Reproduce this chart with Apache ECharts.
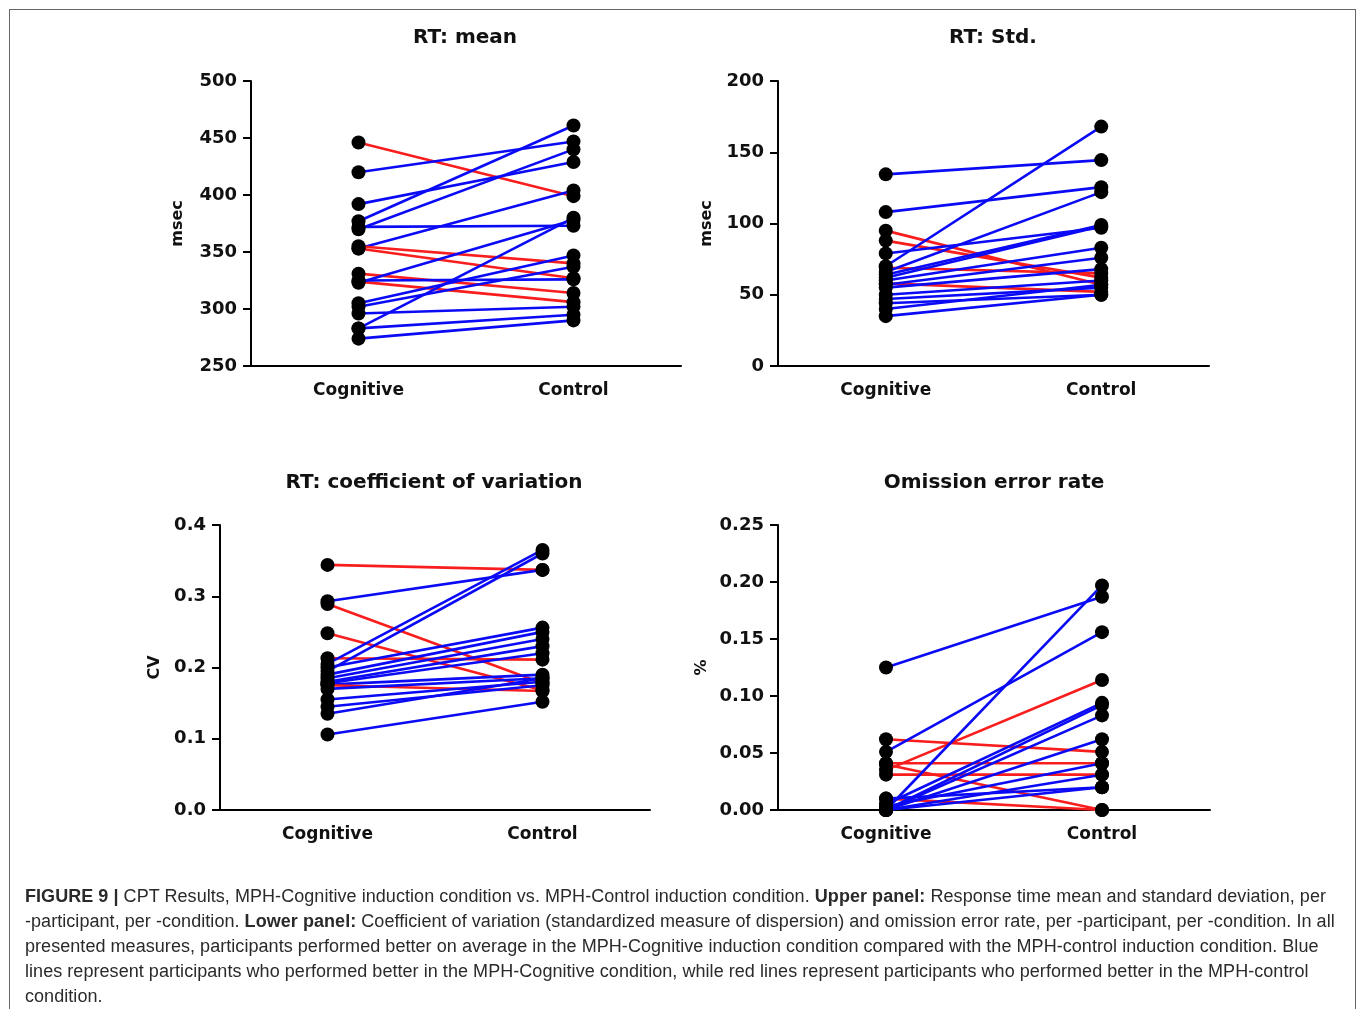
<!DOCTYPE html>
<html>
<head>
<meta charset="utf-8">
<script src="https://cdn.jsdelivr.net/npm/echarts@6/dist/echarts.min.js"></script>
<style>
html,body{margin:0;padding:0;background:#fff;}
#wrap{position:relative;width:1358px;height:1009px;overflow:hidden;}
#frame{position:absolute;left:9px;top:9px;width:1347px;height:1010px;border:1.5px solid #666;box-sizing:border-box;}
#chart{position:absolute;left:0;top:0;width:1358px;height:1009px;}
#cap{position:absolute;left:25px;top:884px;width:1325px;font-family:"Liberation Sans",Arial,sans-serif;font-size:18px;letter-spacing:0.05px;line-height:25px;color:#2a2a2a;white-space:nowrap;}
</style>
</head>
<body>
<div id="wrap">
<div id="frame"></div>
<div id="chart"></div>
<div id="cap"><b>FIGURE 9 |</b> CPT Results, MPH-Cognitive induction condition vs. MPH-Control induction condition. <b>Upper panel:</b> Response time mean and standard deviation, per<br>-participant, per -condition. <b>Lower panel:</b> Coefficient of variation (standardized measure of dispersion) and omission error rate, per -participant, per -condition. In all<br>presented measures, participants performed better on average in the MPH-Cognitive induction condition compared with the MPH-control induction condition. Blue<br>lines represent participants who performed better in the MPH-Cognitive condition, while red lines represent participants who performed better in the MPH-control<br>condition.</div>
</div>
<script>
// ---- data ----
var categories = ['Cognitive', 'Control'];
var titles = ['RT: mean', 'RT: Std.', 'RT: coefficient of variation', 'Omission error rate'];
var yNames = ['msec', 'msec', 'CV', '%'];

// RT mean (msec)
var meanCog  = [446, 420, 392, 377, 370, 372, 353, 355, 353, 331, 324, 325, 323, 305, 302, 296, 283, 283, 274];
var meanCtrl = [399, 447, 429, 461, 440, 373, 404, 340, 327, 314, 306, 326, 378, 347, 337, 302, 380, 295, 290];
var meanCol  = ['R','B','B','B','B','B','B','R','R','R','R','B','B','B','B','B','B','B','B'];

// RT std (msec)
var stdCog  = [134.5, 108, 95, 88, 79, 70, 69, 66, 64, 62, 60, 58, 57, 55, 50, 47, 44, 40, 35];
var stdCtrl = [144.5, 125.5, 57, 62, 97, 168, 65, 122, 99, 98, 83, 52, 76, 68, 60, 55, 50, 57, 50];
var stdCol  = ['B','B','R','R','B','B','R','B','B','B','B','R','B','B','B','B','B','B','B'];

// RT coefficient of variation
var cvCog  = [0.344, 0.293, 0.289, 0.248, 0.213, 0.205, 0.195, 0.200, 0.190, 0.185, 0.180, 0.178, 0.176, 0.175, 0.170, 0.155, 0.145, 0.135, 0.106];
var cvCtrl = [0.337, 0.337, 0.178, 0.168, 0.211, 0.365, 0.360, 0.256, 0.250, 0.240, 0.230, 0.220, 0.190, 0.167, 0.185, 0.180, 0.175, 0.185, 0.152];
var cvCol  = ['R','B','R','R','R','B','B','B','B','B','B','B','B','R','B','B','B','B','B'];

// Omission error rate
var omCog  = [0.125, 0.062, 0.051, 0.041, 0.040, 0.035, 0.031, 0.010, 0.010, 0.005, 0.000, 0.000, 0.000, 0.000, 0.000, 0.000, 0.003];
var omCtrl = [0.187, 0.051, 0.156, 0.041, 0.000, 0.114, 0.031, 0.000, 0.020, 0.094, 0.197, 0.092, 0.083, 0.062, 0.031, 0.020, 0.041];
var omCol  = ['B','R','B','R','R','R','R','R','B','B','B','B','B','B','B','B','B'];

var yMin = [250, 0, 0, 0];
var yMax = [500, 200, 0.4, 0.25];
var yInt = [50, 50, 0.1, 0.05];
var yDec = [0, 0, 1, 2];

// ---- layout ----
var grids = [
  {left: 251, top: 81, width: 430, height: 285},
  {left: 778, top: 81, width: 431, height: 285},
  {left: 220, top: 525, width: 430, height: 285},
  {left: 778, top: 525, width: 432, height: 285}
];
var nameGaps = [65, 63, 57, 68];
var titlePos = [[460, 23], [988, 23], [429, 468], [989, 468]];

var panels = [
  [meanCog, meanCtrl, meanCol],
  [stdCog, stdCtrl, stdCol],
  [cvCog, cvCtrl, cvCol],
  [omCog, omCtrl, omCol]
];
var BLUE = '#0a0af5', RED = '#f81e1e';
var FONT = '"DejaVu Sans", Verdana, sans-serif';

var option = {
  animation: false,
  backgroundColor: 'transparent',
  title: titles.map(function (t, i) {
    return {text: t, left: titlePos[i][0], top: titlePos[i][1], textAlign: 'center',
      textStyle: {fontFamily: FONT, fontSize: 20, fontWeight: 'bold', color: '#111'}};
  }),
  grid: grids,
  xAxis: grids.map(function (g, i) {
    return {type: 'category', gridIndex: i, data: categories, boundaryGap: true,
      axisLine: {lineStyle: {color: '#000', width: 2}},
      axisTick: {alignWithLabel: true, length: 8, lineStyle: {color: '#000', width: 2}},
      axisLabel: {margin: 16, color: '#111', fontFamily: FONT, fontSize: 17, fontWeight: 'bold'},
      splitLine: {show: false}};
  }),
  yAxis: grids.map(function (g, i) {
    return {type: 'value', gridIndex: i, min: yMin[i], max: yMax[i], interval: yInt[i],
      name: yNames[i], nameLocation: 'middle', nameGap: nameGaps[i], nameRotate: 90,
      nameTextStyle: {fontFamily: FONT, fontSize: 16, fontWeight: 'bold', color: '#111'},
      axisLine: {show: true, lineStyle: {color: '#000', width: 2}},
      axisTick: {show: true, length: 8, lineStyle: {color: '#000', width: 2}},
      axisLabel: {margin: 14, color: '#111', fontFamily: FONT, fontSize: 18, fontWeight: 'bold',
        formatter: (function (d) { return function (v) { return v.toFixed(d); }; })(yDec[i])},
      splitLine: {show: false}};
  }),
  series: []
};

panels.forEach(function (p, i) {
  var cog = p[0], ctrl = p[1], col = p[2];
  var pts = [];
  for (var k = 0; k < cog.length; k++) {
    option.series.push({type: 'line', xAxisIndex: i, yAxisIndex: i, data: [cog[k], ctrl[k]],
      symbol: 'none', silent: true, z: 2,
      lineStyle: {width: 2.6, color: col[k] === 'R' ? RED : BLUE}});
    pts.push([0, cog[k]]);
    pts.push([1, ctrl[k]]);
  }
  option.series.push({type: 'scatter', xAxisIndex: i, yAxisIndex: i, data: pts,
    symbolSize: 14, itemStyle: {color: '#000', opacity: 1}, z: 5, clip: false});
});

var chart = echarts.init(document.getElementById('chart'), null, {renderer: 'canvas'});
chart.setOption(option);
</script>
</body>
</html>
